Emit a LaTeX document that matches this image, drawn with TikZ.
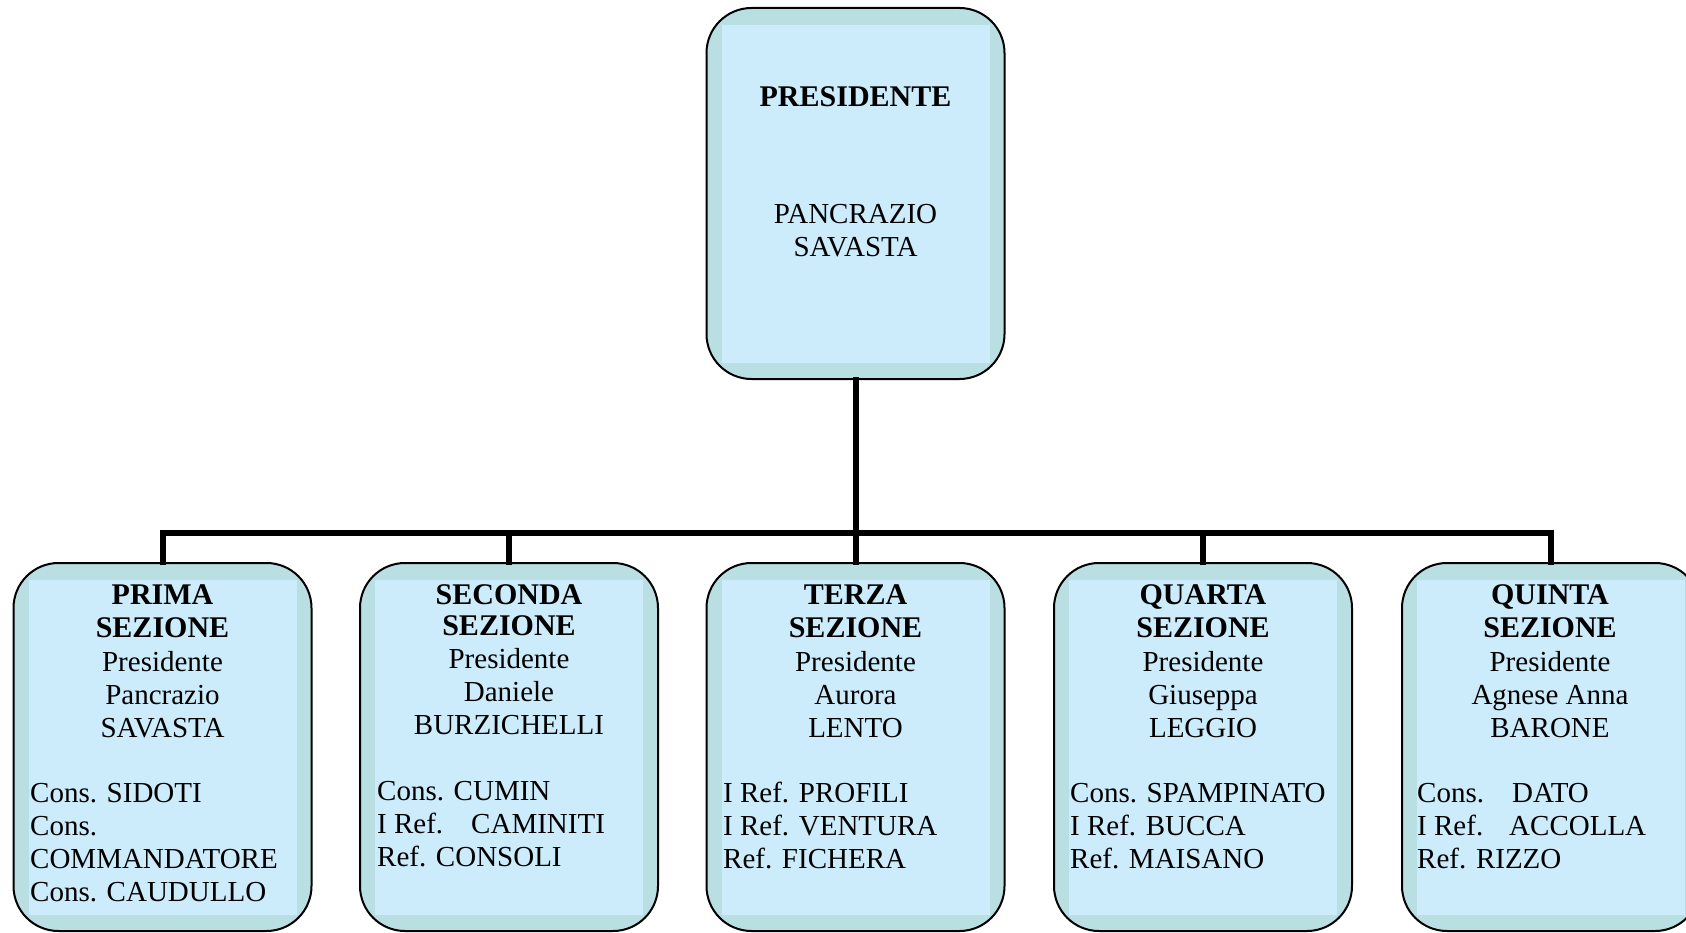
\documentclass[tikz,border=0pt]{standalone}
\usepackage{fontspec}
\setmainfont{Liberation Serif}
\definecolor{outerc}{RGB}{185,223,226}
\definecolor{innerc}{RGB}{204,235,251}
\begin{document}
\begin{tikzpicture}[x=1pt,y=-1pt,
  orgbox/.style={draw=black, line width=2pt, fill=outerc, rounded corners=45pt,
    minimum width=298pt, inner sep=0pt,
    path picture={\fill[innerc, sharp corners] ([xshift=15pt,yshift=16pt]path picture bounding box.south west)
      rectangle ([xshift=-15pt,yshift=-17pt]path picture bounding box.north east);}},
  conn/.style={draw=black, line width=6pt, line join=miter, line cap=rect},
  hd/.style={anchor=base, inner sep=0pt, font=\fontsize{30pt}{33pt}\selectfont\bfseries},
  ln/.style={anchor=base, inner sep=0pt, font=\fontsize{29pt}{33pt}\selectfont},
  lf/.style={anchor=base west, inner sep=0pt, font=\fontsize{29pt}{33pt}\selectfont}]
\useasboundingbox (0,0) rectangle (1686,933);
\fill[white] (0,0) rectangle (1686,933);
\clip (0,0) rectangle (1686,933);

% boxes
\node[orgbox, minimum height=371pt] (top) at (855.5,193.5) {};
\node[orgbox, minimum height=368pt] (b1) at (162.5,747) {};
\node[orgbox, minimum height=368pt] (b2) at (509,747) {};
\node[orgbox, minimum height=368pt] (b3) at (855.5,747) {};
\node[orgbox, minimum height=368pt] (b4) at (1203,747) {};
\node[orgbox, minimum height=368pt] (b5) at (1551,747) {};

% connectors
\coordinate (bus) at (855.5,533);
\draw[conn] (top.south) -- (bus);
\draw[conn] (b1.north) -- (b1.north |- bus) -- (b5.north |- bus) -- (b5.north);
\draw[conn] (b2.north) -- (b2.north |- bus);
\draw[conn] (b3.north) -- (b3.north |- bus);
\draw[conn] (b4.north) -- (b4.north |- bus);

% top box text
\node[hd] (t0a) at (855.5,107) {PRESIDENTE};
\node[ln] (t0b) at (855.5,224) {PANCRAZIO};
\node[ln] (t0c) at (855.5,257) {SAVASTA};

% box 1
\node[hd] (t1a) at (162.5,604) {PRIMA};
\node[hd] (t1b) at (162.5,637) {SEZIONE};
\node[ln] (t1c) at (162.5,671) {Presidente};
\node[ln] (t1d) at (162.5,704) {Pancrazio};
\node[ln] (t1e) at (162.5,737) {SAVASTA};
\node[lf] (t1f) at (30,802) {Cons. SIDOTI};
\node[lf] (t1g) at (30,835) {Cons.};
\node[lf] (t1h) at (30,868) {COMMANDATORE};
\node[lf] (t1i) at (30,901) {Cons. CAUDULLO};

% box 2
\node[hd] (t2a) at (509,604) {SECONDA};
\node[hd] (t2b) at (509,635) {SEZIONE};
\node[ln] (t2c) at (509,668) {Presidente};
\node[ln] (t2d) at (509,701) {Daniele};
\node[ln] (t2e) at (509,734) {BURZICHELLI};
\node[lf] (t2f) at (377,800) {Cons. CUMIN};
\node[lf] (t2g) at (377,833) {I Ref.\hspace{28pt}CAMINITI};
\node[lf] (t2h) at (377,866) {Ref. CONSOLI};

% box 3
\node[hd] (t3a) at (855.5,604) {TERZA};
\node[hd] (t3b) at (855.5,637) {SEZIONE};
\node[ln] (t3c) at (855.5,671) {Presidente};
\node[ln] (t3d) at (855.5,704) {Aurora};
\node[ln] (t3e) at (855.5,737) {LENTO};
\node[lf] (t3f) at (723,802) {I Ref. PROFILI};
\node[lf] (t3g) at (723,835) {I Ref. VENTURA};
\node[lf] (t3h) at (723,868) {Ref. FICHERA};

% box 4
\node[hd] (t4a) at (1203,604) {QUARTA};
\node[hd] (t4b) at (1203,637) {SEZIONE};
\node[ln] (t4c) at (1203,671) {Presidente};
\node[ln] (t4d) at (1203,704) {Giuseppa};
\node[ln] (t4e) at (1203,737) {LEGGIO};
\node[lf] (t4f) at (1070,802) {Cons. SPAMPINATO};
\node[lf] (t4g) at (1070,835) {I Ref. BUCCA};
\node[lf] (t4h) at (1070,868) {Ref. MAISANO};

% box 5
\node[hd] (t5a) at (1550,604) {QUINTA};
\node[hd] (t5b) at (1550,637) {SEZIONE};
\node[ln] (t5c) at (1550,671) {Presidente};
\node[ln] (t5d) at (1550,704) {Agnese Anna};
\node[ln] (t5e) at (1550,737) {BARONE};
\node[lf] (t5f) at (1417,802) {Cons.\hspace{28pt}DATO};
\node[lf] (t5g) at (1417,835) {I Ref.\hspace{26pt}ACCOLLA};
\node[lf] (t5h) at (1417,868) {Ref. RIZZO};
\end{tikzpicture}
\end{document}
